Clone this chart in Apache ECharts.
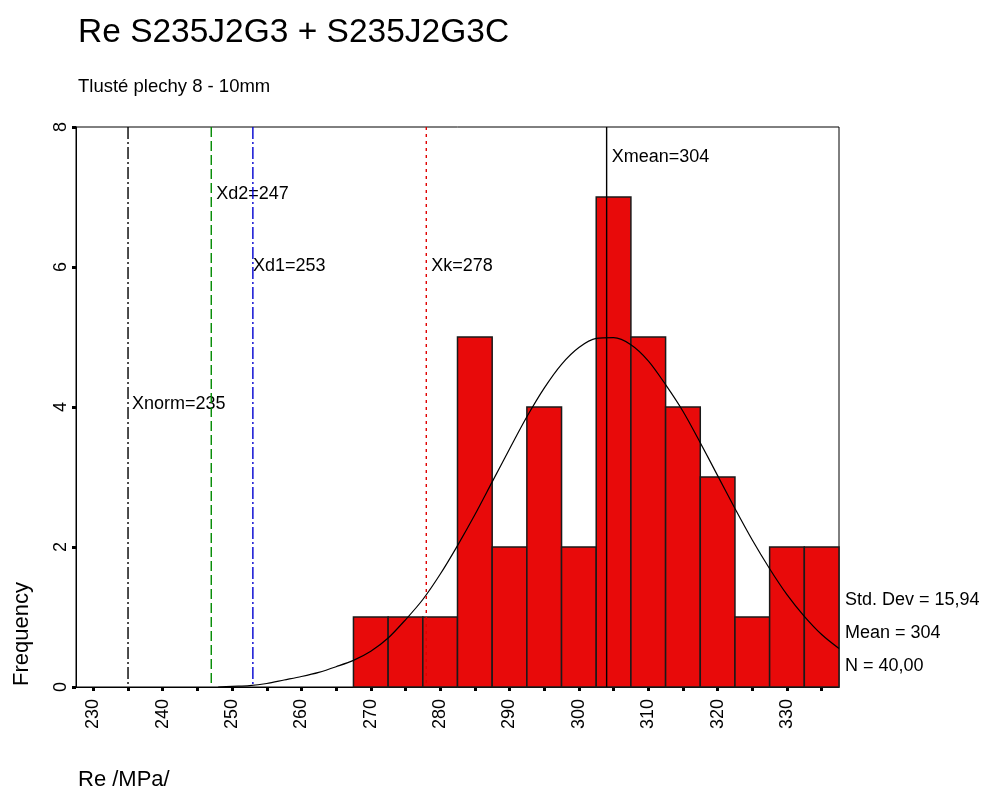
<!DOCTYPE html>
<html>
<head>
<meta charset="utf-8">
<title>Re S235J2G3 + S235J2G3C</title>
<script src="https://cdn.jsdelivr.net/npm/echarts@6/dist/echarts.min.js"></script>
<style>
  html, body { margin: 0; padding: 0; background: #fff; }
  #chart { width: 988px; height: 792px; }
</style>
</head>
<body>
<div id="chart"></div>
<script>
// Histogram of yield strength Re, bins of 5 MPa (centres)
const binCenters = [270, 275, 280, 285, 290, 295, 300, 305, 310, 315, 320, 325, 330, 335];
const binCounts  = [1, 1, 1, 5, 2, 4, 2, 7, 5, 4, 3, 1, 2, 2];
const binWidth = 5;

// Fitted normal curve, sampled along the axis
const curveX = [248, 250, 252.5, 255, 257.5, 260, 262.5, 265, 267.5, 270, 272.5, 275, 277.5, 280,
                282.5, 285, 287.5, 290, 292.5, 295, 297.5, 300, 302.5, 305, 307.5, 310, 312.5,
                315, 317.5, 320, 322.5, 325, 327.5, 330, 332.5, 335, 337.5];
const curveY = [0.00, 0.01, 0.02, 0.05, 0.10, 0.15, 0.21, 0.29, 0.38, 0.51, 0.70, 0.96, 1.25, 1.61,
                2.02, 2.46, 2.93, 3.40, 3.86, 4.27, 4.61, 4.85, 4.98, 4.99, 4.89, 4.66, 4.32,
                3.94, 3.49, 3.02, 2.55, 2.10, 1.69, 1.32, 1.01, 0.75, 0.55];

// Reference values marked with vertical lines
const refNames  = ['Xnorm', 'Xd2', 'Xd1', 'Xk', 'Xmean'];
const refValues = [235, 247, 253, 278, 304];

// Axis ticks and labels
const xTickValues  = [230, 235, 240, 245, 250, 255, 260, 265, 270, 275, 280, 285, 290, 295, 300, 305, 310, 315, 320, 325, 330, 335];
const xLabelValues = [230, 240, 250, 260, 270, 280, 290, 300, 310, 320, 330];

// Summary statistics
const statLines = ['Std. Dev = 15,94', 'Mean = 304', 'N = 40,00'];

// Drawing styles for each reference line (colour, dash, label height in frequency units, label x offset)
const refStyles = [
  { color: '#000000', dash: [12, 3, 2, 3], labelAt: 4.04, dx: 4 },
  { color: '#008a00', dash: [10, 4],       labelAt: 7.04, dx: 5 },
  { color: '#0000d0', dash: [12, 3, 2, 3], labelAt: 6.01, dx: 0 },
  { color: '#e00000', dash: [3, 4],        labelAt: 6.01, dx: 5 },
  { color: '#000000', dash: null,          labelAt: 7.57, dx: 5 }
];

const FONT = '"Liberation Sans", Arial, sans-serif';
const chart = echarts.init(document.getElementById('chart'), null, { renderer: 'canvas' });

const option = {
  backgroundColor: '#ffffff',
  animation: false,
  grid: {
    left: 76, right: 149, top: 127, bottom: 105,
    show: true, borderColor: '#000', borderWidth: 1, backgroundColor: 'transparent'
  },
  xAxis: {
    type: 'value',
    min: 227.5,
    max: 337.5,
    axisLine: { show: true, onZero: false, lineStyle: { color: '#000', width: 1 } },
    axisTick: { show: true, customValues: xTickValues, length: 4, inside: false,
                lineStyle: { color: '#000', width: 3 } },
    axisLabel: { customValues: xLabelValues, rotate: 90, margin: 12,
                 color: '#000', fontSize: 18, fontFamily: FONT },
    splitLine: { show: false }
  },
  yAxis: {
    type: 'value',
    min: 0,
    max: 8,
    interval: 2,
    axisLine: { show: true, lineStyle: { color: '#000', width: 1 } },
    axisTick: { show: true, length: 4, lineStyle: { color: '#000', width: 3 } },
    axisLabel: { rotate: 90, margin: 6, color: '#000', fontSize: 18, fontFamily: FONT },
    splitLine: { show: false }
  },
  graphic: [
    { type: 'text', x: 78, y: 33, style: { text: 'Re S235J2G3 + S235J2G3C', fill: '#000',
      font: '33.5px ' + FONT, verticalAlign: 'middle' } },
    { type: 'text', x: 78, y: 87, style: { text: 'Tlusté plechy 8 - 10mm', fill: '#000',
      font: '18.5px ' + FONT, verticalAlign: 'middle' } },
    { type: 'text', x: 78, y: 780, style: { text: 'Re /MPa/', fill: '#000',
      font: '22px ' + FONT, verticalAlign: 'middle' } },
    { type: 'text', x: 22, y: 686, rotation: Math.PI / 2, style: { text: 'Frequency', fill: '#000',
      font: '22px ' + FONT, verticalAlign: 'middle', align: 'left' } },
    ...statLines.map((t, i) => ({
      type: 'text', x: 845, y: 600 + i * 33,
      style: { text: t, fill: '#000', font: '18px ' + FONT, verticalAlign: 'middle' }
    }))
  ],
  series: [
    {
      // histogram bars
      type: 'custom',
      z: 2,
      data: binCenters.map((c, i) => [c, binCounts[i]]),
      renderItem: function (params, api) {
        const c = api.value(0), v = api.value(1);
        const p0 = api.coord([c - binWidth / 2, v]);
        const p1 = api.coord([c + binWidth / 2, 0]);
        return {
          type: 'rect',
          shape: { x: p0[0], y: p0[1], width: p1[0] - p0[0], height: p1[1] - p0[1] },
          style: { fill: '#e80a0a', stroke: '#1a1a1a', lineWidth: 1.5 }
        };
      }
    },
    {
      // fitted normal curve
      type: 'line',
      z: 3,
      data: curveX.map((x, i) => [x, curveY[i]]),
      smooth: 0.3,
      showSymbol: false,
      lineStyle: { color: '#000', width: 1.2 }
    },
    {
      // reference lines with labels
      type: 'custom',
      z: 4,
      data: refValues.map((v, i) => [v, i]),
      renderItem: function (params, api) {
        const v = api.value(0), i = api.value(1);
        const s = refStyles[i];
        const top = api.coord([v, 8]);
        const bottom = api.coord([v, 0]);
        const lab = api.coord([v, s.labelAt]);
        return {
          type: 'group',
          children: [
            {
              type: 'text',
              x: lab[0] + s.dx, y: lab[1],
              style: { text: refNames[i] + '=' + v, fill: '#000', font: '18px ' + FONT,
                       verticalAlign: 'middle', align: 'left' }
            },
            {
              type: 'line',
              shape: { x1: top[0], y1: top[1], x2: bottom[0], y2: bottom[1] },
              style: { stroke: s.color, lineWidth: 1.4, lineDash: s.dash || null }
            }
          ]
        };
      }
    }
  ]
};

chart.setOption(option);
</script>
</body>
</html>
